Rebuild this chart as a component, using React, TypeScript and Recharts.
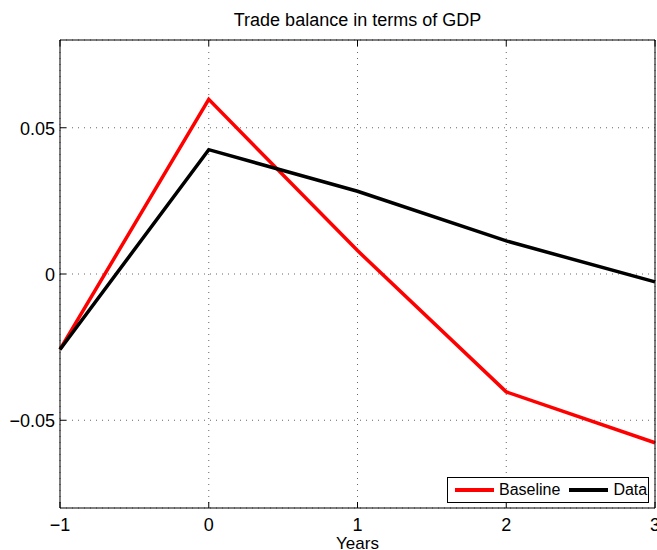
import { LineChart, Line, XAxis, YAxis, CartesianGrid, Legend } from "recharts";

const years = [-1, 0, 1, 2, 3];
const baseline = [-0.0258, 0.0597, 0.008, -0.0403, -0.0577];
const observed = [-0.0258, 0.0425, 0.0283, 0.0113, -0.0027];

const xTicks = [-1, 0, 1, 2, 3];
const yTicks = [-0.05, 0, 0.05];
const yTickLabels = ["\u22120.05", "0", "0.05"];
const xTickLabels = ["\u22121", "0", "1", "2", "3"];

const FONT = '"Liberation Sans", Arial, Helvetica, sans-serif';

const chartData = years.map((year, i) => ({
  year,
  baseline: baseline[i],
  data: observed[i],
}));

// MATLAB style: ticks point into the plot box
function BottomTick(props: any) {
  const { x, y, payload } = props;
  const idx = xTicks.indexOf(payload.value);
  return (
    <g>
      <line x1={x} y1={y} x2={x} y2={y - 6} stroke="#000" />
      <text x={x} y={y + 23} textAnchor="middle" fontSize={18} fontFamily={FONT} fill="#000">
        {idx >= 0 ? xTickLabels[idx] : payload.value}
      </text>
    </g>
  );
}

function TopTick(props: any) {
  const { x, y } = props;
  return <line x1={x} y1={y} x2={x} y2={y + 6} stroke="#000" />;
}

function LeftTick(props: any) {
  const { x, y, payload } = props;
  const idx = yTicks.indexOf(payload.value);
  return (
    <g>
      <line x1={x} y1={y} x2={x + 6} y2={y} stroke="#000" />
      <text x={x - 5} y={y + 7} textAnchor="end" fontSize={18} fontFamily={FONT} fill="#000">
        {idx >= 0 ? yTickLabels[idx] : payload.value}
      </text>
    </g>
  );
}

function RightTick(props: any) {
  const { x, y } = props;
  return <line x1={x} y1={y} x2={x - 6} y2={y} stroke="#000" />;
}

function LegendBox() {
  const seg = (color: string) => (
    <span style={{ display: "inline-block", width: 39, height: 3.5, background: color }} />
  );
  return (
    <div
      style={{
        boxSizing: "border-box",
        width: 202,
        height: 26,
        border: "1px solid #000",
        background: "#fff",
        display: "flex",
        alignItems: "center",
        fontFamily: FONT,
        fontSize: 16,
        color: "#000",
        paddingLeft: 7,
      }}
    >
      {seg("#ff0000")}
      <span style={{ marginLeft: 5 }}>Baseline</span>
      <span style={{ marginLeft: 9, display: "inline-flex" }}>{seg("#000000")}</span>
      <span style={{ marginLeft: 5 }}>Data</span>
    </div>
  );
}

export default function App() {
  return (
    <div style={{ position: "absolute", left: 0, top: 0, width: 657, height: 550, background: "#fff" }}>
      <div
        style={{
          position: "absolute",
          left: 60,
          width: 595,
          top: 10,
          lineHeight: "20px",
          textAlign: "center",
          fontFamily: FONT,
          fontSize: 18,
          color: "#000",
        }}
      >
        Trade balance in terms of GDP
      </div>
      <LineChart
        width={657}
        height={550}
        data={chartData}
        margin={{ top: 39, right: 1, bottom: 0, left: 0 }}
      >
        <CartesianGrid
          xAxisId="bottom"
          yAxisId="left"
          stroke="#666"
          strokeDasharray="1 5"
        />
        <XAxis
          xAxisId="bottom"
          dataKey="year"
          type="number"
          domain={[-1, 3]}
          ticks={xTicks}
          height={42}
          tickSize={0}
          tickMargin={0}
          tickLine={false}
          axisLine={{ stroke: "#000" }}
          tick={<BottomTick />}
          interval={0}
          label={{
            value: "Years",
            position: "insideBottom",
            offset: 1,
            fontSize: 17,
            fontFamily: FONT,
            fill: "#000",
          }}
        />
        <XAxis
          xAxisId="top"
          orientation="top"
          dataKey="year"
          type="number"
          domain={[-1, 3]}
          ticks={xTicks}
          height={1}
          tickSize={0}
          tickMargin={0}
          tickLine={false}
          axisLine={{ stroke: "#000" }}
          tick={<TopTick />}
          interval={0}
        />
        <YAxis
          yAxisId="left"
          type="number"
          domain={[-0.08, 0.08]}
          ticks={yTicks}
          width={60}
          tickSize={0}
          tickMargin={0}
          tickLine={false}
          axisLine={{ stroke: "#000" }}
          tick={<LeftTick />}
          interval={0}
        />
        <YAxis
          yAxisId="right"
          orientation="right"
          type="number"
          domain={[-0.08, 0.08]}
          ticks={yTicks}
          width={1}
          tickSize={0}
          tickMargin={0}
          tickLine={false}
          axisLine={{ stroke: "#000" }}
          tick={<RightTick />}
          interval={0}
        />
        <Legend
          layout="vertical"
          align="center"
          verticalAlign="middle"
          content={<LegendBox />}
          wrapperStyle={{ left: 447, top: 477, width: 202, height: 26 }}
        />
        <Line
          xAxisId="bottom"
          yAxisId="left"
          type="linear"
          dataKey="baseline"
          name="Baseline"
          stroke="#ff0000"
          strokeWidth={3.5}
          dot={false}
          isAnimationActive={false}
        />
        <Line
          xAxisId="bottom"
          yAxisId="left"
          type="linear"
          dataKey="data"
          name="Data"
          stroke="#000000"
          strokeWidth={3.5}
          dot={false}
          isAnimationActive={false}
        />
      </LineChart>
    </div>
  );
}
